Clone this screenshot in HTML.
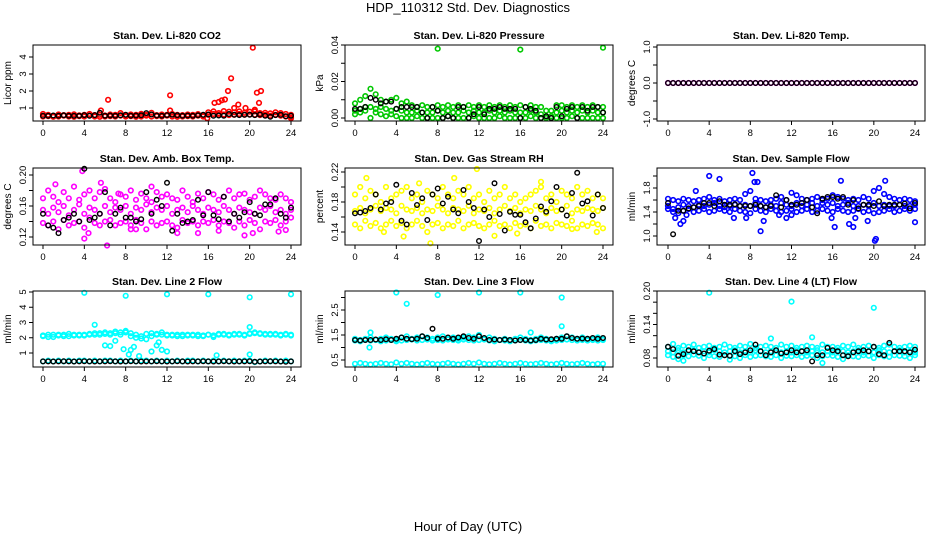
<!DOCTYPE html>
<html><head><meta charset="utf-8"><style>
html,body{margin:0;padding:0;background:#fff;}
svg{display:block;font-family:"Liberation Sans",sans-serif;}
</style></head><body>
<svg id="chart" width="936" height="540" viewBox="0 0 936 540" xmlns="http://www.w3.org/2000/svg">
<rect x="0" y="0" width="936" height="540" fill="#fff"/>
<text x="468" y="12" text-anchor="middle" font-size="13">HDP_110312  Std. Dev. Diagnostics</text>
<text x="468" y="531" text-anchor="middle" font-size="13">Hour of Day (UTC)</text>
</svg>
<script>
const hours=[0,0.5,1,1.5,2,2.5,3,3.5,4,4.5,5,5.5,6,6.5,7,7.5,8,8.5,9,9.5,10,10.5,11,11.5,12,12.5,13,13.5,14,14.5,15,15.5,16,16.5,17,17.5,18,18.5,19,19.5,20,20.5,21,21.5,22,22.5,23,23.5,24];
const xTicks=[0,4,8,12,16,20,24];

const co2Red1=[0.65,0.6,0.55,0.62,0.58,0.6,0.63,0.57,0.6,0.65,0.58,0.6,0.56,0.62,0.6,0.7,0.58,0.62,0.6,0.66,0.6,0.72,0.58,0.62,0.6,0.65,0.6,0.58,0.62,0.6,0.64,0.58,0.75,0.8,0.7,0.82,0.78,0.75,0.8,0.72,0.78,0.8,0.7,0.72,0.68,0.75,0.7,0.65,0.6];
const co2Red2=[0.5,0.52,0.48,0.5,0.55,0.5,0.48,0.52,0.5,0.55,0.5,0.48,0.5,0.52,0.5,0.55,0.5,0.52,0.48,0.5,0.55,0.5,0.52,0.5,0.55,0.5,0.48,0.5,0.52,0.5,0.55,0.5,0.6,0.65,0.6,0.62,0.58,0.6,0.65,0.6,0.62,0.6,0.58,0.6,0.55,0.6,0.55,0.5,0.45];
const co2OutX=[5.6,6.3,12.3,12.3,16.6,17,17.3,17.6,17.9,18.2,18.5,18.9,19.6,20.3,20.5,20.7,20.9,21.1,15.9,24];
const co2OutY=[0.85,1.48,1.75,0.85,1.3,1.35,1.45,1.5,2.0,2.75,1.0,1.2,1.0,4.55,0.9,1.9,1.3,2.0,0.4,0.4];
const co2Black=[0.55,0.55,0.56,0.55,0.57,0.55,0.55,0.54,0.58,0.55,0.58,0.72,0.55,0.56,0.55,0.57,0.6,0.55,0.56,0.57,0.7,0.62,0.56,0.55,0.58,0.6,0.57,0.55,0.56,0.55,0.57,0.6,0.62,0.55,0.56,0.55,0.65,0.6,0.58,0.6,0.6,0.58,0.62,0.55,0.48,0.58,0.6,0.52,0.55];

const presGreen1=[0.008,0.01,0.012,0.016,0.013,0.01,0.009,0.01,0.011,0.008,0.009,0.007,0.006,0.007,0.006,0.006,0.007,0.006,0.007,0.006,0.007,0.006,0.007,0.006,0.007,0.006,0.007,0.006,0.007,0.006,0.007,0.006,0.007,0.006,0.007,0.006,0.006,0.004,0.004,0.007,0.007,0.006,0.007,0.006,0.007,0.006,0.007,0.006,0.006];
const presGreen2=[0.004,0.005,0.006,0.006,0.005,0.006,0.005,0.004,0.005,0.004,0.003,0.003,0.004,0.003,0.003,0.003,0.004,0.003,0.004,0.003,0.003,0.004,0.003,0.004,0.003,0.003,0.004,0.003,0.004,0.003,0.004,0.003,0.003,0.003,0.004,0.003,0.002,0.001,0.001,0.003,0.004,0.003,0.004,0.003,0.004,0.003,0.004,0.003,0.003];
const presGreen3=[0.002,0.003,0.004,0.0,0.003,0.002,0.001,0.002,0.001,0.0,0.0,0.0,0.001,0.0,0.0,0.0,0.0,0.0,0.001,0.0,0.0,0.0,0.0,0.001,0.0,0.0,0.0,0.0,0.001,0.0,0.0,0.0,0.0,0.0,0.001,0.0,0.0,0.0,0.0,0.0,0.0,0.0,0.001,0.0,0.0,0.0,0.0,0.0,0.0];
const presOutX=[8,16,24];
const presOutY=[0.038,0.0375,0.0385];
const presBlack=[0.005,0.005,0.006,0.011,0.01,0.008,0.009,0.009,0.005,0.006,0.006,0.006,0.006,0.003,0,0.006,0.004,0.0,0.001,0.0,0.006,0.006,0.0,0.002,0.006,0.002,0.005,0.005,0.006,0.005,0.005,0.005,0.0,0.006,0.005,0.004,0.0,0.001,0.0,0.006,0.001,0.005,0.006,0.0,0.006,0.004,0.006,0.006,0.003];

const tempMagenta=[0,0,0,0,0,0,0,0,0,0,0,0,0,0,0,0,0,0,0,0,0,0,0,0,0,0,0,0,0,0,0,0,0,0,0,0,0,0,0,0,0,0,0,0,0,0,0,0,0];
const tempBlack=[0,0,0,0,0,0,0,0,0,0,0,0,0,0,0,0,0,0,0,0,0,0,0,0,0,0,0,0,0,0,0,0,0,0,0,0,0,0,0,0,0,0,0,0,0,0,0,0,0];

const ambMag1=[0.17,0.18,0.172,0.165,0.178,0.17,0.185,0.168,0.175,0.18,0.17,0.178,0.182,0.17,0.165,0.175,0.172,0.18,0.168,0.176,0.17,0.165,0.178,0.172,0.175,0.17,0.168,0.18,0.172,0.165,0.176,0.17,0.178,0.175,0.168,0.172,0.18,0.17,0.175,0.176,0.168,0.172,0.18,0.175,0.17,0.168,0.175,0.17,0.165];
const ambMag2=[0.155,0.15,0.158,0.152,0.16,0.148,0.155,0.162,0.15,0.158,0.155,0.15,0.16,0.152,0.158,0.155,0.16,0.15,0.158,0.155,0.162,0.152,0.158,0.155,0.16,0.15,0.155,0.158,0.152,0.16,0.155,0.15,0.158,0.155,0.152,0.16,0.155,0.15,0.158,0.155,0.152,0.15,0.158,0.155,0.16,0.152,0.155,0.15,0.155];
const ambMag3=[0.138,0.135,0.14,0.13,0.142,0.135,0.138,0.14,0.132,0.145,0.138,0.135,0.14,0.142,0.135,0.138,0.14,0.135,0.142,0.138,0.13,0.14,0.135,0.138,0.14,0.135,0.132,0.142,0.138,0.14,0.135,0.14,0.138,0.142,0.135,0.14,0.138,0.132,0.14,0.135,0.142,0.138,0.13,0.14,0.138,0.142,0.135,0.14,0.145];
const ambOutX=[3.8,6.2,1.2,5.6,4.4,13,15,19.5,17,4,8.5,9,20.3,22.8,23.5,10.5,7.3];
const ambOutY=[0.205,0.109,0.188,0.19,0.125,0.125,0.125,0.122,0.128,0.118,0.13,0.13,0.125,0.127,0.129,0.185,0.176];
const ambBlack=[0.15,0.135,0.132,0.125,0.142,0.145,0.15,0.14,0.208,0.142,0.145,0.15,0.178,0.135,0.15,0.158,0.145,0.145,0.14,0.143,0.178,0.15,0.168,0.16,0.19,0.128,0.15,0.138,0.14,0.142,0.168,0.148,0.178,0.148,0.143,0.172,0.14,0.15,0.145,0.152,0.165,0.15,0.148,0.162,0.162,0.17,0.15,0.145,0.158];

const rhYel1=[0.19,0.2,0.185,0.195,0.19,0.18,0.2,0.185,0.19,0.195,0.2,0.185,0.19,0.18,0.195,0.19,0.185,0.2,0.19,0.185,0.195,0.19,0.2,0.185,0.19,0.18,0.195,0.185,0.19,0.2,0.185,0.19,0.18,0.185,0.19,0.195,0.2,0.185,0.19,0.18,0.195,0.19,0.185,0.2,0.19,0.195,0.185,0.19,0.185];
const rhYel2=[0.168,0.172,0.165,0.17,0.175,0.168,0.172,0.17,0.165,0.175,0.17,0.168,0.172,0.165,0.17,0.168,0.175,0.17,0.165,0.172,0.17,0.168,0.175,0.165,0.17,0.168,0.172,0.165,0.17,0.175,0.168,0.172,0.165,0.17,0.168,0.175,0.17,0.165,0.172,0.168,0.17,0.175,0.165,0.17,0.168,0.172,0.17,0.168,0.172];
const rhYel3=[0.15,0.145,0.155,0.148,0.152,0.145,0.15,0.155,0.148,0.152,0.145,0.15,0.155,0.148,0.14,0.15,0.152,0.145,0.15,0.148,0.155,0.145,0.15,0.152,0.148,0.145,0.15,0.155,0.148,0.15,0.145,0.152,0.148,0.15,0.145,0.155,0.148,0.15,0.145,0.152,0.15,0.148,0.155,0.145,0.15,0.148,0.152,0.15,0.145];
const rhOutX=[11.8,7.3,4.7,1.1,9.6,13.5,18,23.4,21,2.8,15.7,6.2];
const rhOutY=[0.224,0.125,0.134,0.212,0.212,0.135,0.207,0.14,0.144,0.14,0.138,0.205];
const rhBlack=[0.165,0.166,0.168,0.172,0.19,0.17,0.178,0.18,0.203,0.155,0.15,0.192,0.176,0.185,0.156,0.19,0.198,0.178,0.187,0.17,0.165,0.196,0.18,0.172,0.128,0.17,0.16,0.205,0.164,0.142,0.167,0.163,0.163,0.153,0.145,0.158,0.174,0.167,0.181,0.2,0.17,0.162,0.192,0.219,0.178,0.181,0.162,0.19,0.172];

const flowBlue1=[1.62,1.6,1.58,1.62,1.6,1.58,1.6,1.62,1.65,1.6,1.62,1.58,1.6,1.62,1.6,1.7,1.75,1.62,1.6,1.58,1.6,1.62,1.65,1.6,1.72,1.68,1.62,1.6,1.62,1.65,1.6,1.62,1.68,1.65,1.62,1.6,1.62,1.6,1.65,1.62,1.75,1.8,1.7,1.65,1.62,1.6,1.62,1.6,1.58];
const flowBlue2=[1.5,1.45,1.48,1.52,1.5,1.48,1.52,1.5,1.52,1.55,1.5,1.48,1.5,1.52,1.5,1.52,1.5,1.55,1.5,1.48,1.52,1.5,1.55,1.52,1.5,1.55,1.5,1.52,1.55,1.5,1.55,1.52,1.55,1.5,1.52,1.55,1.5,1.5,1.52,1.5,1.55,1.5,1.52,1.5,1.5,1.52,1.5,1.5,1.52];
const flowBlue3=[1.45,1.4,1.38,1.42,1.45,1.4,1.42,1.45,1.4,1.42,1.45,1.42,1.4,1.45,1.42,1.4,1.38,1.45,1.42,1.4,1.45,1.42,1.4,1.42,1.45,1.4,1.42,1.45,1.4,1.42,1.45,1.42,1.4,1.45,1.42,1.4,1.42,1.45,1.4,1.42,1.38,1.4,1.42,1.45,1.4,1.42,1.45,1.42,1.45];
const flowOutX=[0.7,1.2,1.5,1.8,4,5,8.2,8.4,8.7,7.6,9,9.3,12,11.5,15.9,16.2,16.8,17.6,18,19.4,20.1,20.2,21.1,24,2.7,6.4,18.2,10.8];
const flowOutY=[1.3,1.2,1.25,1.35,2.0,1.95,2.05,1.9,1.9,1.3,1.08,1.25,1.35,1.3,1.3,1.15,1.92,1.2,1.15,1.25,0.92,0.95,1.92,1.23,1.75,1.3,1.3,1.35];
const flowBlack=[1.55,1.03,1.42,1.42,1.46,1.48,1.5,1.55,1.55,1.5,1.58,1.52,1.52,1.53,1.5,1.5,1.5,1.52,1.5,1.48,1.5,1.68,1.48,1.6,1.52,1.52,1.55,1.6,1.48,1.38,1.62,1.65,1.65,1.62,1.65,1.52,1.6,1.46,1.52,1.52,1.5,1.58,1.5,1.52,1.52,1.52,1.54,1.46,1.55];

const l2Cyan1=[2.1,2.05,2.2,2.15,2.2,2.1,2.2,2.15,2.2,2.25,2.3,2.2,2.35,2.3,2.4,2.35,2.45,2.3,2.0,2.1,1.9,2.3,2.2,2.35,2.2,2.15,2.2,2.1,2.2,2.15,2.2,2.1,2.2,2.05,2.25,2.2,2.2,2.25,2.2,2.15,2.3,2.35,2.3,2.25,2.2,2.25,2.2,2.2,2.2];
const l2Cyan2=[2.15,2.2,2.05,2.2,2.1,2.25,2.15,2.2,2.15,2.2,2.2,2.3,2.25,2.2,2.3,2.2,2.35,2.1,2.2,1.95,2.25,2.1,2.25,2.2,2.15,2.2,2.1,2.2,2.15,2.2,2.1,2.15,2.2,2.15,2.2,2.25,2.15,2.2,2.25,2.2,2.25,2.3,2.25,2.2,2.25,2.2,2.15,2.25,2.15];
const l2Cyan3=[0.45,0.5,0.45,0.5,0.45,0.5,0.45,0.5,0.5,0.45,0.5,0.45,0.5,0.5,0.45,0.5,0.45,0.5,0.45,0.5,0.5,0.45,0.5,0.45,0.5,0.45,0.5,0.45,0.5,0.5,0.45,0.5,0.45,0.5,0.45,0.5,0.45,0.5,0.45,0.5,0.5,0.4,0.45,0.5,0.45,0.5,0.45,0.5,0.45];
const l2OutX=[4,8,12,16,20,24,5,20,6,6.5,7,7.8,8.3,8.5,8.8,9.3,10.5,11,11.2,11.5,12,16.8,20];
const l2OutY=[4.95,4.75,4.85,4.85,4.65,4.85,2.85,2.7,1.5,1.45,1.8,1.25,0.9,1.2,1.4,0.8,1.1,1.5,1.7,1.2,1.1,0.85,0.9];
const l2Black=[0.45,0.45,0.44,0.45,0.46,0.45,0.44,0.45,0.46,0.45,0.44,0.45,0.45,0.46,0.45,0.44,0.45,0.46,0.45,0.44,0.45,0.45,0.46,0.45,0.44,0.45,0.46,0.45,0.44,0.45,0.45,0.46,0.45,0.44,0.45,0.46,0.45,0.44,0.45,0.45,0.46,0.42,0.44,0.45,0.46,0.45,0.44,0.42,0.45];

const l3Cyan1=[1.35,1.3,1.35,1.4,1.3,1.35,1.4,1.35,1.3,1.4,1.45,1.35,1.4,1.45,1.4,1.35,1.4,1.45,1.35,1.4,1.35,1.4,1.45,1.4,1.5,1.35,1.4,1.35,1.3,1.35,1.3,1.35,1.4,1.35,1.3,1.35,1.4,1.35,1.3,1.35,1.4,1.45,1.4,1.35,1.4,1.35,1.35,1.4,1.35];
const l3Cyan2=[1.28,1.25,1.3,1.28,1.3,1.25,1.28,1.3,1.25,1.28,1.3,1.32,1.28,1.3,1.32,1.28,1.3,1.28,1.32,1.3,1.28,1.32,1.3,1.28,1.3,1.32,1.28,1.25,1.3,1.28,1.25,1.28,1.3,1.28,1.25,1.28,1.3,1.28,1.25,1.28,1.3,1.32,1.3,1.28,1.3,1.28,1.3,1.28,1.3];
const l3Cyan3=[0.35,0.38,0.35,0.32,0.35,0.38,0.35,0.33,0.4,0.35,0.38,0.35,0.32,0.35,0.38,0.35,0.33,0.35,0.38,0.35,0.32,0.35,0.38,0.35,0.4,0.35,0.33,0.35,0.38,0.35,0.32,0.35,0.38,0.35,0.33,0.35,0.38,0.35,0.32,0.35,0.38,0.35,0.33,0.35,0.38,0.35,0.32,0.35,0.35];
const l3OutX=[4,5,8,12,16,20,1.5,1.4,20,17];
const l3OutY=[3.2,2.75,3.1,3.2,3.2,3.0,1.6,1.0,1.85,1.6];
const l3Black=[1.3,1.28,1.3,1.3,1.32,1.3,1.33,1.3,1.35,1.4,1.35,1.33,1.35,1.45,1.38,1.75,1.35,1.35,1.4,1.35,1.4,1.45,1.38,1.35,1.45,1.38,1.3,1.32,1.3,1.32,1.3,1.28,1.3,1.3,1.28,1.3,1.35,1.32,1.33,1.35,1.35,1.45,1.38,1.35,1.36,1.35,1.38,1.35,1.38];

const l4Cyan1=[0.1,0.105,0.098,0.102,0.1,0.104,0.098,0.1,0.102,0.098,0.1,0.104,0.1,0.098,0.102,0.1,0.105,0.098,0.1,0.102,0.1,0.098,0.104,0.1,0.102,0.098,0.1,0.102,0.1,0.098,0.104,0.1,0.1,0.098,0.102,0.1,0.104,0.098,0.1,0.102,0.1,0.098,0.102,0.104,0.1,0.098,0.1,0.102,0.1];
const l4Cyan2=[0.092,0.09,0.094,0.09,0.092,0.094,0.09,0.092,0.09,0.094,0.092,0.09,0.092,0.094,0.09,0.092,0.09,0.094,0.092,0.09,0.092,0.094,0.09,0.092,0.09,0.094,0.092,0.09,0.092,0.094,0.09,0.092,0.09,0.094,0.092,0.09,0.092,0.094,0.09,0.092,0.09,0.094,0.092,0.09,0.092,0.094,0.09,0.092,0.09];
const l4Cyan3=[0.085,0.082,0.078,0.085,0.083,0.086,0.084,0.08,0.085,0.083,0.082,0.085,0.084,0.083,0.08,0.085,0.082,0.084,0.085,0.083,0.082,0.085,0.08,0.084,0.083,0.085,0.082,0.084,0.085,0.08,0.083,0.085,0.084,0.082,0.078,0.085,0.083,0.082,0.085,0.084,0.08,0.085,0.083,0.082,0.085,0.084,0.083,0.08,0.085];
const l4OutX=[4,12,20,15,1.5,6,10,14];
const l4OutY=[0.197,0.181,0.170,0.071,0.075,0.077,0.115,0.117];
const l4Black=[0.1,0.096,0.084,0.087,0.094,0.092,0.09,0.088,0.093,0.096,0.086,0.085,0.084,0.092,0.087,0.09,0.094,0.104,0.092,0.085,0.09,0.094,0.088,0.09,0.094,0.09,0.092,0.094,0.074,0.085,0.085,0.098,0.094,0.092,0.085,0.083,0.09,0.092,0.094,0.092,0.1,0.087,0.085,0.107,0.092,0.092,0.092,0.09,0.095];

const svg=document.getElementById('chart');
const NS='http://www.w3.org/2000/svg';
function mk(tag,attrs,parent){const e=document.createElementNS(NS,tag);for(const k in attrs)e.setAttribute(k,attrs[k]);(parent||svg).appendChild(e);return e;}

const panels=[
 {key:'co2',title:'Stan. Dev. Li-820 CO2',ylab:'Licor ppm',box:[33,45,301,121],xr:[43,291],yc:[1,108,4,57],ticks:[1,2,3,4],labels:['1','2','3','4'],
  series:[[hours,co2Red1,'#ff0000'],[hours,co2Red2,'#ff0000'],[co2OutX,co2OutY,'#ff0000'],[hours,co2Black,'#000']]},
 {key:'pressure',title:'Stan. Dev. Li-820 Pressure',ylab:'kPa',box:[345,45,613,121],xr:[355,603],yc:[0,118,0.04,45],ticks:[0,0.01,0.02,0.03,0.04],labels:['0.00','','0.02','','0.04'],
  series:[[hours,presGreen1,'#00c800'],[hours,presGreen2,'#00c800'],[hours,presGreen3,'#00c800'],[presOutX,presOutY,'#00c800'],[hours,presBlack,'#000']]},
 {key:'temp',title:'Stan. Dev. Li-820 Temp.',ylab:'degrees C',box:[657,45,925,121],xr:[668,915],yc:[1,47,-1,119],ticks:[-1,-0.5,0,0.5,1],labels:['-1.0','','0.0','','1.0'],
  series:[[hours,tempMagenta,'#ff00ff'],[hours,tempBlack,'#000']]},
 {key:'ambbox',title:'Stan. Dev. Amb. Box Temp.',ylab:'degrees C',box:[33,168,301,245],xr:[43,291],yc:[0.2,175,0.12,237],ticks:[0.12,0.14,0.16,0.18,0.2],labels:['0.12','','0.16','','0.20'],
  series:[[hours,ambMag1,'#ff00ff'],[hours,ambMag2,'#ff00ff'],[hours,ambMag3,'#ff00ff'],[ambOutX,ambOutY,'#ff00ff'],[hours,ambBlack,'#000']]},
 {key:'rh',title:'Stan. Dev. Gas Stream RH',ylab:'percent',box:[345,168,613,245],xr:[355,603],yc:[0.22,172,0.14,232],ticks:[0.14,0.16,0.18,0.2,0.22],labels:['0.14','','0.18','','0.22'],
  series:[[hours,rhYel1,'#ffff00'],[hours,rhYel2,'#ffff00'],[hours,rhYel3,'#ffff00'],[rhOutX,rhOutY,'#ffff00'],[hours,rhBlack,'#000']]},
 {key:'sampleflow',title:'Stan. Dev. Sample Flow',ylab:'ml/min',box:[657,168,925,245],xr:[668,915],yc:[1.8,188,1.0,236],ticks:[1.0,1.2,1.4,1.6,1.8,2.0],labels:['1.0','','1.4','','1.8',''],
  series:[[hours,flowBlue1,'#0000ff'],[hours,flowBlue2,'#0000ff'],[hours,flowBlue3,'#0000ff'],[flowOutX,flowOutY,'#0000ff'],[hours,flowBlack,'#000']]},
 {key:'line2',title:'Stan. Dev. Line 2 Flow',ylab:'ml/min',box:[33,291,301,367],xr:[43,291],yc:[5,292,1,353],ticks:[1,2,3,4,5],labels:['1','2','3','4','5'],
  series:[[hours,l2Cyan1,'#00ffff'],[hours,l2Cyan2,'#00ffff'],[hours,l2Cyan3,'#00ffff'],[l2OutX,l2OutY,'#00ffff'],[hours,l2Black,'#000']]},
 {key:'line3',title:'Stan. Dev. Line 3 Flow',ylab:'ml/min',box:[345,291,613,367],xr:[355,603],yc:[2.5,310,0.5,360],ticks:[0.5,1,1.5,2,2.5,3],labels:['0.5','','1.5','','2.5',''],
  series:[[hours,l3Cyan1,'#00ffff'],[hours,l3Cyan2,'#00ffff'],[hours,l3Cyan3,'#00ffff'],[l3OutX,l3OutY,'#00ffff'],[hours,l3Black,'#000']]},
 {key:'line4',title:'Stan. Dev. Line 4 (LT) Flow',ylab:'ml/min',box:[657,291,925,367],xr:[668,915],yc:[0.2,291,0.08,358],ticks:[0.08,0.1,0.12,0.14,0.16,0.18,0.2],labels:['0.08','','','0.14','','','0.20'],
  series:[[hours,l4Cyan1,'#00ffff'],[hours,l4Cyan2,'#00ffff'],[hours,l4Cyan3,'#00ffff'],[l4OutX,l4OutY,'#00ffff'],[hours,l4Black,'#000']]}
];

panels.forEach(p=>{
  const [bx0,by0,bx1,by1]=p.box;
  const g=mk('g',{});
  
  
  const xs=v=>p.xr[0]+(p.xr[1]-p.xr[0])*v/24;
  const ys=v=>p.yc[1]+(p.yc[3]-p.yc[1])*(v-p.yc[0])/(p.yc[2]-p.yc[0]);
  const cx=(bx0+bx1)/2;
  const t=mk('text',{x:cx,y:by0-6,'text-anchor':'middle','font-size':'10.5','font-weight':'bold'},g);
  t.textContent=p.title;
  
  
  const yl=mk('text',{x:0,y:0,'text-anchor':'middle','font-size':'10',transform:`translate(${bx0-22},${(by0+by1)/2}) rotate(-90)`},g);
  yl.textContent=p.ylab;
  
  
  const pts=mk('g',{},g);
  
  
  p.series.forEach(s=>{
    const [X,Y,col]=s;
    const sw=col==='#000'?1.4:1.6;
    for(let i=0;i<Y.length;i++){
      const c=mk('circle',{cx:xs(X[i]).toFixed(1),cy:ys(Y[i]).toFixed(1),r:2.3,fill:'none',stroke:col,'stroke-width':sw},pts);
      
      
    }
  });
  const box=mk('rect',{x:bx0,y:by0,width:bx1-bx0,height:by1-by0,fill:'none',stroke:'#000','stroke-width':1},g);
  
  
  xTicks.forEach(v=>{
    const x=xs(v);
    const tk=mk('line',{x1:x,x2:x,y1:by1,y2:by1+4,stroke:'#000','stroke-width':1},g);
    
    
    const lb=mk('text',{x:x,y:by1+15,'text-anchor':'middle','font-size':'9.5'},g);
    lb.textContent=String(v);
    
    
  });
  p.ticks.forEach((v,i)=>{
    const y=ys(v);
    const tk=mk('line',{x1:bx0-4,x2:bx0,y1:y,y2:y,stroke:'#000','stroke-width':1},g);
    
    
    if(p.labels[i]){
      const lb=mk('text',{x:0,y:0,'text-anchor':'middle','font-size':'9.5',transform:`translate(${bx0-7},${y}) rotate(-90)`},g);
      lb.textContent=p.labels[i];
      
      
    }
  });
});
</script>
</body></html>
